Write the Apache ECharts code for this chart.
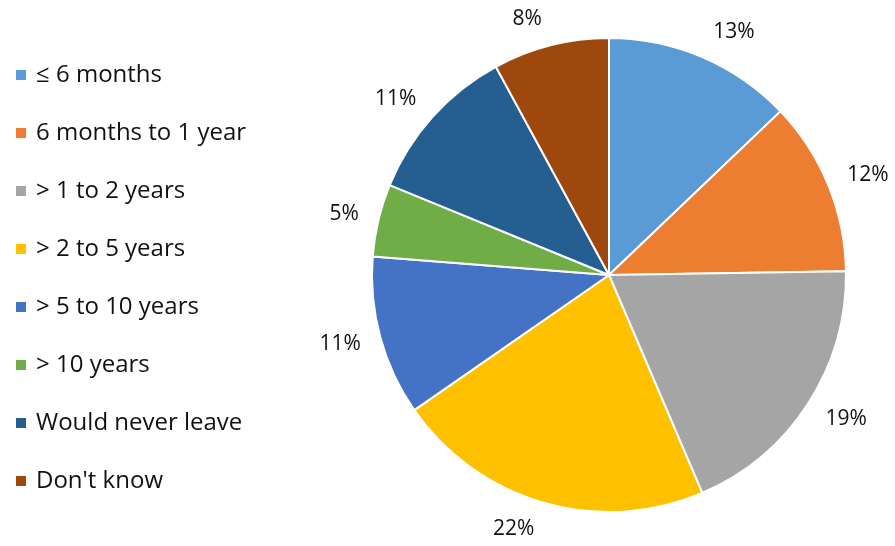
<!DOCTYPE html>
<html>
<head>
<meta charset="utf-8">
<script src="https://cdn.jsdelivr.net/npm/echarts@6/dist/echarts.min.js"></script>
<style>
  html, body { margin: 0; padding: 0; background: #fff; }
  #chart { width: 895px; height: 546px; }
</style>
</head>
<body>
<div id="chart"></div>
<script>
// Expected time before leaving, share of respondents (%)
const categories = [
  '≤ 6 months',
  '6 months to 1 year',
  '> 1 to 2 years',
  '> 2 to 5 years',
  '> 5 to 10 years',
  '> 10 years',
  'Would never leave',
  "Don't know"
];
const shares = [13, 12, 19, 22, 11, 5, 11, 8];
const colors = ['#5B9BD5', '#ED7D31', '#A5A5A5', '#FFC000', '#4472C4', '#70AD47', '#255E91', '#9E480E'];

const font = '"Open Sans", Lato, sans-serif';
const total = shares.reduce((a, b) => a + b, 0);

// mid angle of each slice, measured clockwise from 12 o'clock
const midAngles = [];
shares.reduce((acc, v) => {
  midAngles.push((acc + v / 2) / total * 2 * Math.PI);
  return acc + v;
}, 0);

const chart = echarts.init(document.getElementById('chart'), null, { renderer: 'canvas' });

chart.setOption({
  animation: false,
  color: colors,
  legend: {
    orient: 'vertical',
    left: 9,
    top: 56,
    itemWidth: 12,
    itemHeight: 12,
    itemGap: 30,
    icon: 'rect',
    textStyle: { fontFamily: font, fontSize: 24, color: '#111', padding: [0, 0, 0, 4], lineHeight: 28 },
    data: categories
  },
  series: [{
    type: 'pie',
    center: [609, 275],
    radius: [0, 237],
    startAngle: 90,
    clockwise: true,
    avoidLabelOverlap: false,
    itemStyle: { borderColor: '#fff', borderWidth: 2 },
    label: {
      show: true,
      position: 'outside',
      formatter: '{c}%',
      fontFamily: font,
      fontSize: 21,
      color: '#111'
    },
    labelLine: { show: false, length: 15, length2: 0 },
    // push labels near the top and bottom a little further from the rim
    labelLayout: function (params) {
      return { dy: -Math.cos(midAngles[params.dataIndex]) * 12 };
    },
    emphasis: { disabled: true },
    data: categories.map((name, i) => ({ name, value: shares[i] }))
  }]
});
</script>
</body>
</html>
